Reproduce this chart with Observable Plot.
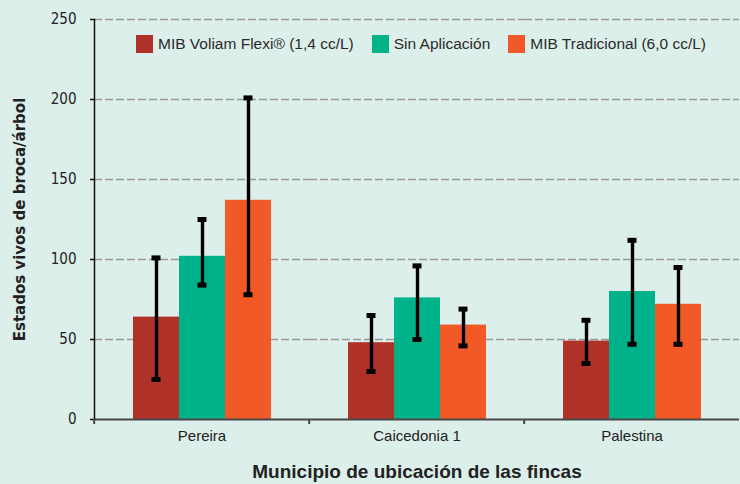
<!DOCTYPE html>
<html>
<head>
<meta charset="utf-8">
<script src="https://cdn.jsdelivr.net/npm/d3@7"></script>
<script src="https://cdn.jsdelivr.net/npm/@observablehq/plot@0.6"></script>
<style>
  html, body { margin: 0; padding: 0; background: #ddefea; }
  #wrap { position: relative; width: 740px; height: 484px; background: #ddefea; }
  #legend { position: absolute; left: 136px; top: 35px; display: flex; align-items: center;
    font-family: "Liberation Sans", Arial, sans-serif; font-size: 15.5px; color: #2a2a2a; }
  #legend .item { display: flex; align-items: center; margin-right: 18px; }
  #legend .sw { width: 17px; height: 18px; margin-right: 5px; }
  g[aria-label="y-axis tick label"] text { font-family: "DejaVu Sans Condensed", "Liberation Sans", sans-serif; font-size: 15px; }
  g[aria-label="y-axis label"] text { font-family: "DejaVu Sans", sans-serif; font-weight: bold; font-size: 15px; }
  g[aria-label="fx-axis label"] text { font-family: "Liberation Sans", Arial, sans-serif; font-weight: bold; font-size: 19px; }
</style>
</head>
<body>
<div id="wrap"><div id="legend"></div></div>
<script>
const municipios = ["Pereira", "Caicedonia 1", "Palestina"];
const tratamientos = ["MIB Voliam Flexi® (1,4 cc/L)", "Sin Aplicación", "MIB Tradicional (6,0 cc/L)"];
const colores = ["#b03127", "#00b28a", "#f15a27"];

const voliam = [64, 48, 49];
const voliamLow = [25, 30, 35];
const voliamHigh = [101, 65, 62];

const sinAplicacion = [102, 76, 80];
const sinLow = [84, 50, 47];
const sinHigh = [125, 96, 112];

const tradicional = [137, 59, 72];
const tradLow = [78, 46, 47];
const tradHigh = [201, 69, 95];

const yTicks = [0, 50, 100, 150, 200, 250];

const series = [
  [voliam, voliamLow, voliamHigh],
  [sinAplicacion, sinLow, sinHigh],
  [tradicional, tradLow, tradHigh]
];
const data = [];
municipios.forEach((m, i) => {
  tratamientos.forEach((t, j) => {
    data.push({municipio: m, tratamiento: t, valor: series[j][0][i], lo: series[j][1][i], hi: series[j][2][i]});
  });
});

const W = 740, H = 484, mL = 93, mR = 0;
const step = (W - mL - mR) / municipios.length;

const chart = Plot.plot({
  width: W, height: H,
  marginLeft: mL, marginRight: mR, marginTop: 19, marginBottom: 65,
  style: {background: "transparent", fontFamily: "Liberation Sans, Arial, sans-serif", fontSize: "15px", color: "#222"},
  fx: {domain: municipios, padding: 0},
  x: {domain: tratamientos, paddingInner: 0, paddingOuter: 0.8, axis: null},
  y: {domain: [0, 250]},
  color: {domain: tratamientos, range: colores},
  marks: [
    Plot.gridY({ticks: yTicks.slice(1), stroke: "#9a9a9a", strokeOpacity: 1, strokeWidth: 1.6, strokeDasharray: "8,3"}),
    Plot.barY(data, {fx: "municipio", x: "tratamiento", y: "valor", fill: "tratamiento"}),
    Plot.ruleX(data, {fx: "municipio", x: "tratamiento", y1: "lo", y2: "hi", stroke: "#000", strokeWidth: 3.4}),
    Plot.tickY(data, {fx: "municipio", x: "tratamiento", y: "lo", stroke: "#000", strokeWidth: 5, insetLeft: 18.5, insetRight: 18.5}),
    Plot.tickY(data, {fx: "municipio", x: "tratamiento", y: "hi", stroke: "#000", strokeWidth: 5, insetLeft: 18.5, insetRight: 18.5}),
    Plot.ruleY([0], {stroke: "#474747", strokeWidth: 2}),
    Plot.frame({anchor: "left", facetAnchor: "left", stroke: "#111", strokeWidth: 1.5}),
    Plot.axisY({ticks: yTicks, tickSize: 4, tickPadding: 14, facetAnchor: "left", stroke: "#111", strokeWidth: 1.5,
      label: "Estados vivos de broca/árbol", labelAnchor: "center", labelOffset: 80, labelArrow: "none"}),
    Plot.axisFx({anchor: "bottom", tickSize: 0, tickPadding: 11, label: "Municipio de ubicación de las fincas", labelAnchor: "center", labelOffset: 58}),
    Plot.axisFx({anchor: "bottom", tickSize: 5, tickFormat: () => "", label: null, dx: -step / 2, stroke: "#474747", strokeWidth: 2})
  ]
});

const wrap = document.getElementById("wrap");
wrap.insertBefore(chart, wrap.firstChild);

const legend = document.getElementById("legend");
tratamientos.forEach((t, j) => {
  const item = document.createElement("div");
  item.className = "item";
  const sw = document.createElement("div");
  sw.className = "sw";
  sw.style.background = colores[j];
  const tx = document.createElement("span");
  tx.textContent = t;
  item.appendChild(sw);
  item.appendChild(tx);
  legend.appendChild(item);
});
</script>
</body>
</html>
